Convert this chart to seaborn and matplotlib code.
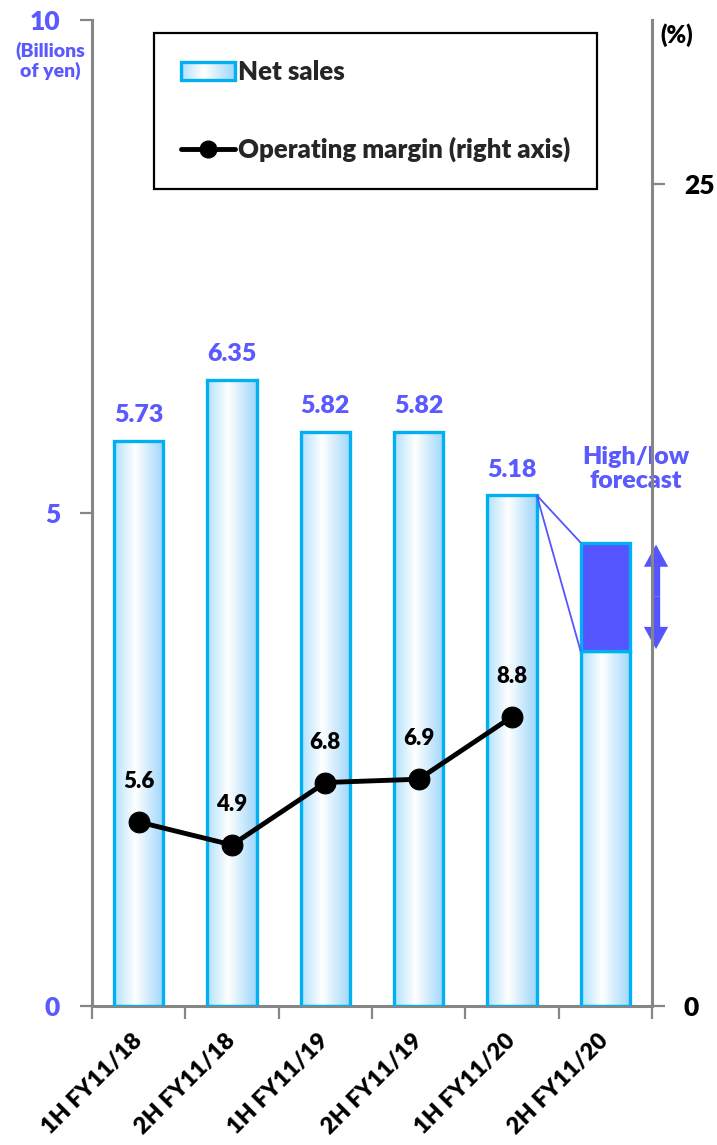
import numpy as np
import matplotlib
matplotlib.use("Agg")
import matplotlib.pyplot as plt
from matplotlib.patches import Rectangle, FancyArrowPatch
from matplotlib.lines import Line2D
from matplotlib.legend_handler import HandlerBase
import pandas as pd
import seaborn as sns

# ---- data ----
periods = ["1H FY11/18", "2H FY11/18", "1H FY11/19", "2H FY11/19", "1H FY11/20", "2H FY11/20"]
net_sales = [5.73, 6.35, 5.82, 5.82, 5.18]          # billions of yen, actuals
forecast_low = 3.6                                   # 2H FY11/20 forecast range
forecast_high = 4.7
sales_labels = ["5.73", "6.35", "5.82", "5.82", "5.18"]
op_margin = [5.6, 4.9, 6.8, 6.9, 8.8]                # %, right axis
margin_labels = ["5.6", "4.9", "6.8", "6.9", "8.8"]
left_ticks = [0, 5, 10]
right_ticks = [0, 25]

# ---- style ----
sns.set_theme(style="white")
plt.rcParams["font.family"] = ["Lato", "DejaVu Sans"]
W = "heavy"
plt.rcParams["font.weight"] = W

BLUE_TEXT = "#5a5aff"
FORECAST = "#5555ff"
EDGE = "#00b0f0"
SPINE = "#868686"
BAR_W = 0.53
BAR_LW = 2.4

# horizontal gradient used inside the sales bars
grad_pos = [0.0, 0.42, 1.0]
grad_rgb = np.array([[176, 225, 252], [255, 255, 255], [158, 214, 250]]) / 255.0


def gradient_color(t):
    return tuple(np.interp(t, grad_pos, grad_rgb[:, k]) for k in range(3))


grad_img = np.array([[gradient_color(t) for t in np.linspace(0, 1, 256)]])

fig = plt.figure(figsize=(7.17, 11.45), dpi=100)
ax = fig.add_axes([92 / 717, 1 - 1006 / 1145, 560 / 717, 986 / 1145])

bar_values = net_sales + [forecast_low]
df = pd.DataFrame({"period": periods, "sales": bar_values})
sns.barplot(data=df, x="period", y="sales", ax=ax, width=BAR_W, fill=False,
            color=EDGE, saturation=1, linewidth=BAR_LW, errorbar=None)
bars = list(ax.patches)
for p in bars:
    p.set_edgecolor(EDGE)
    p.set_zorder(3)
    x0, w, h = p.get_x(), p.get_width(), p.get_height()
    ax.imshow(grad_img, extent=[x0, x0 + w, 0, h], aspect="auto",
              interpolation="bilinear", zorder=2)

# forecast range stacked on top of the low estimate
last = len(periods) - 1
ax.bar(last, forecast_high - forecast_low, bottom=forecast_low, width=BAR_W,
       color=FORECAST, edgecolor=EDGE, linewidth=BAR_LW, zorder=3)

# connector lines from the latest actual to the forecast range
prev = last - 1
for target in (forecast_high, forecast_low):
    ax.plot([prev + BAR_W / 2, last - BAR_W / 2], [net_sales[prev], target],
            color=FORECAST, lw=1.3, zorder=4, solid_capstyle="butt")

# double-headed arrow beside the forecast bar
arrow_x = last + 0.543
mid = (forecast_low + forecast_high) / 2
for end in (forecast_high - 0.02, forecast_low + 0.02):
    ax.add_patch(FancyArrowPatch((arrow_x, mid), (arrow_x, end),
                                 arrowstyle="simple,head_length=1.6,head_width=1.75,tail_width=0.6",
                                 mutation_scale=10, color=FORECAST, lw=0,
                                 shrinkA=0, shrinkB=0, clip_on=False, zorder=5))

ax.text(last + 0.33, 5.45, "High/low\nforecast", ha="center", va="center",
        color=BLUE_TEXT, fontsize=18, fontweight=W, linespacing=1.12,
        clip_on=False)

# value labels above bars
for i, (v, lab) in enumerate(zip(net_sales, sales_labels)):
    ax.annotate(lab, (i, v), xytext=(0, 18.5), textcoords="offset points",
                ha="center", va="center", color=BLUE_TEXT, fontsize=18,
                fontweight=W)

# ---- left axis ----
ax.set_ylim(0, 10)
ax.set_yticks(left_ticks)
ax.set_yticklabels([str(t) for t in left_ticks], color=BLUE_TEXT, fontsize=19,
                   fontweight=W)
ax.tick_params(axis="y", which="major", left=True, direction="out", length=9,
               width=1.6, color=SPINE, pad=14)
ax.set_xticks(range(len(periods)))
ax.set_xticklabels(periods, rotation=45, ha="right", va="center",
                   rotation_mode="anchor", fontsize=16.8, fontweight=W,
                   color="black")
ax.set_xticks(np.arange(-0.5, len(periods)), minor=True)
ax.tick_params(axis="x", which="major", bottom=True, length=0, pad=23)
ax.tick_params(axis="x", which="minor", bottom=True, direction="out", length=9,
               width=1.6, color=SPINE)
ax.set_xlabel("")
ax.set_ylabel("")
for side in ("top", "right"):
    ax.spines[side].set_visible(False)
for side in ("left", "bottom"):
    ax.spines[side].set_color(SPINE)
    ax.spines[side].set_linewidth(2.2)

# ---- right axis: operating margin ----
ax2 = ax.twinx()
sns.lineplot(x=np.arange(len(op_margin)), y=op_margin, ax=ax2, color="black",
             linewidth=3.5, marker="o", markersize=15, markeredgecolor="black",
             legend=False, zorder=6)
for i, (m, lab) in enumerate(zip(op_margin, margin_labels)):
    ax2.annotate(lab, (i, m), xytext=(0, 29), textcoords="offset points",
                 ha="center", va="center", color="black", fontsize=16,
                 fontweight=W)
ax2.set_ylim(0, 30)
ax2.set_yticks(right_ticks)
ax2.set_yticklabels([str(t) for t in right_ticks], color="black", fontsize=19,
                    fontweight=W)
ax2.tick_params(axis="y", which="major", right=True, direction="out", length=9,
                width=1.6, color=SPINE, pad=14)
ax2.set_ylabel("")
for side in ("top", "left", "bottom"):
    ax2.spines[side].set_visible(False)
ax2.spines["right"].set_color(SPINE)
ax2.spines["right"].set_linewidth(2.2)
ax.set_xlim(-0.5, len(periods) - 0.5)

# unit captions
fig.text(50 / 717, 1 - 61 / 1145, "(Billions\nof yen)", ha="center", va="center",
         color=BLUE_TEXT, fontsize=14, fontweight=W, linespacing=1.1)
fig.text(677 / 717, 1 - 35 / 1145, "(%)", ha="center", va="center",
         color="black", fontsize=17, fontweight=W)


# ---- legend with a gradient swatch ----
class GradientHandler(HandlerBase):
    def create_artists(self, legend, orig_handle, xdescent, ydescent, width,
                       height, fontsize, trans):
        n = 40
        arts = []
        for k in range(n):
            arts.append(Rectangle((-xdescent + width * k / n, -ydescent),
                                  width / n * 1.6, height,
                                  facecolor=gradient_color(k / (n - 1)),
                                  edgecolor="none", transform=trans))
        arts.append(Rectangle((-xdescent, -ydescent), width, height,
                              facecolor="none", edgecolor=EDGE, lw=2.4,
                              transform=trans))
        return arts


sales_proxy = Rectangle((0, 0), 1, 1)
margin_proxy = Line2D([], [], color="black", lw=3.5, marker="o", markersize=12)
leg = ax2.legend([sales_proxy, margin_proxy],
                 ["Net sales", "Operating margin (right axis)"],
                 handler_map={sales_proxy: GradientHandler()},
                 loc="upper left", bbox_to_anchor=(154 / 717, 1 - 33 / 1145),
                 bbox_transform=fig.transFigure, borderaxespad=0,
                 prop={"size": 18.5, "weight": W}, frameon=True,
                 fancybox=False, shadow=False, framealpha=1, edgecolor="black",
                 handlelength=2.1, handleheight=0.75, handletextpad=0.12,
                 borderpad=1.05, labelspacing=2.05)
leg.get_frame().set_linewidth(1.6)
leg.set_zorder(10)

fig.savefig("out.png", dpi=100)
